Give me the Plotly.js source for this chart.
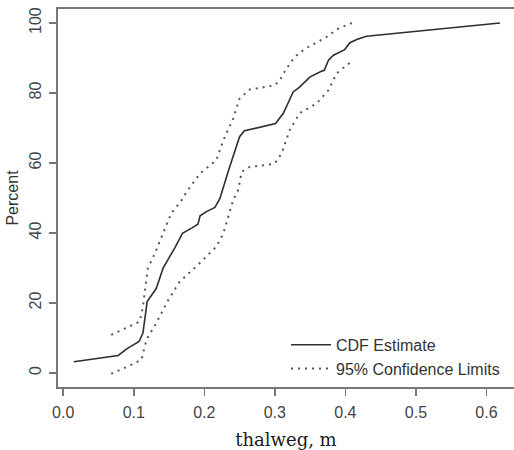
<!DOCTYPE html>
<html>
<head>
<meta charset="utf-8">
<script src="https://cdn.plot.ly/plotly-3.0.1.min.js"></script>
<style>html,body{margin:0;padding:0;background:#fff;}#chart{width:514px;height:450px;}</style>
</head>
<body>
<div id="chart"></div>
<script>
// CDF estimate
const cdfX = [0.015, 0.078, 0.090, 0.1075, 0.113, 0.119, 0.132, 0.1416, 0.158, 0.169, 0.182, 0.191, 0.194, 0.203, 0.215, 0.222, 0.236, 0.250, 0.257, 0.265, 0.301, 0.312, 0.326, 0.335, 0.350, 0.366, 0.370, 0.376, 0.383, 0.399, 0.406, 0.416, 0.430, 0.619];
const cdfY = [3.2, 5.0, 6.9, 9.0, 11.4, 20.4, 24.2, 30.0, 35.7, 39.9, 41.4, 42.5, 44.9, 46.1, 47.3, 49.8, 58.9, 67.5, 69.2, 69.6, 71.3, 74.2, 80.3, 81.7, 84.6, 86.2, 86.5, 89.4, 90.8, 92.4, 94.3, 95.3, 96.2, 100.0];
// Upper 95% confidence limit
const upperX = [0.068, 0.1085, 0.113, 0.120, 0.130, 0.1416, 0.153, 0.168, 0.175, 0.194, 0.217, 0.227, 0.241, 0.250, 0.2645, 0.274, 0.300, 0.307, 0.3166, 0.328, 0.343, 0.361, 0.373, 0.390, 0.409];
const upperY = [10.9, 14.7, 19.0, 30.0, 34.2, 39.9, 45.6, 49.4, 51.8, 57.0, 60.8, 66.5, 72.7, 78.4, 81.0, 81.3, 82.2, 83.7, 87.0, 90.3, 92.7, 94.6, 96.0, 98.4, 100.0];
// Lower 95% confidence limit
const lowerX = [0.068, 0.092, 0.111, 0.118, 0.132, 0.149, 0.165, 0.191, 0.217, 0.227, 0.241, 0.248, 0.253, 0.2645, 0.288, 0.300, 0.3095, 0.321, 0.335, 0.359, 0.376, 0.3875, 0.411];
const lowerY = [-0.2, 1.9, 3.8, 9.5, 14.3, 20.9, 26.1, 30.9, 36.1, 39.9, 49.5, 52.3, 57.5, 58.9, 59.4, 59.9, 62.7, 69.4, 74.2, 77.0, 80.8, 85.6, 89.4];
const xTicks = [0.0, 0.1, 0.2, 0.3, 0.4, 0.5, 0.6];
const xTickText = ["0.0", "0.1", "0.2", "0.3", "0.4", "0.5", "0.6"];
const yTicks = [0, 20, 40, 60, 80, 100];

const traces = [
  {x: cdfX, y: cdfY, type: 'scatter', mode: 'lines', name: 'CDF Estimate',
   line: {color: '#2e2e2e', width: 1.6}},
  {x: upperX, y: upperY, type: 'scatter', mode: 'lines', name: '95% Confidence Limits',
   line: {color: '#555555', width: 2, dash: '2px,5px'}, legendgroup: 'ci'},
  {x: lowerX, y: lowerY, type: 'scatter', mode: 'lines', name: '95% Confidence Limits',
   line: {color: '#555555', width: 2, dash: '2px,5px'}, legendgroup: 'ci', showlegend: false}
];

const tickFont = {family: 'Liberation Sans, Arial, sans-serif', size: 16, color: '#444'};
const layout = {
  width: 514, height: 450,
  margin: {l: 58, r: 0, t: 9, b: 63},
  paper_bgcolor: '#fff', plot_bgcolor: '#fff',
  showlegend: true,
  legend: {x: 0.5, y: 0.003, xanchor: 'left', yanchor: 'bottom', bgcolor: 'rgba(0,0,0,0)',
           font: {family: 'Liberation Sans, Arial, sans-serif', size: 16, color: '#333'},
           tracegroupgap: 0, itemwidth: 40},
  xaxis: {
    range: [-0.0074, 0.639], tickvals: xTicks, ticktext: xTickText,
    showgrid: false, zeroline: false, showline: true, mirror: true,
    linecolor: '#777', linewidth: 2, ticks: 'outside', ticklen: 7, tickwidth: 1.5, tickcolor: '#777',
    tickfont: tickFont, ticklabelstandoff: 3,
    title: {text: 'thalweg, m', font: {family: 'DejaVu Serif, serif', size: 18, color: '#1a1a1a'}, standoff: 16}
  },
  yaxis: {
    range: [-4, 104], tickvals: yTicks,
    showgrid: false, zeroline: false, showline: true, mirror: false,
    linecolor: '#777', linewidth: 2, ticks: 'outside', ticklen: 7, tickwidth: 1.5, tickcolor: '#777',
    tickfont: tickFont, tickangle: -90, ticklabelstandoff: 2,
    title: {text: 'Percent', font: {family: 'Liberation Sans, Arial, sans-serif', size: 16, color: '#333'}, standoff: 4}
  }
};
Plotly.newPlot('chart', traces, layout, {displayModeBar: false, staticPlot: true});
</script>
</body>
</html>
